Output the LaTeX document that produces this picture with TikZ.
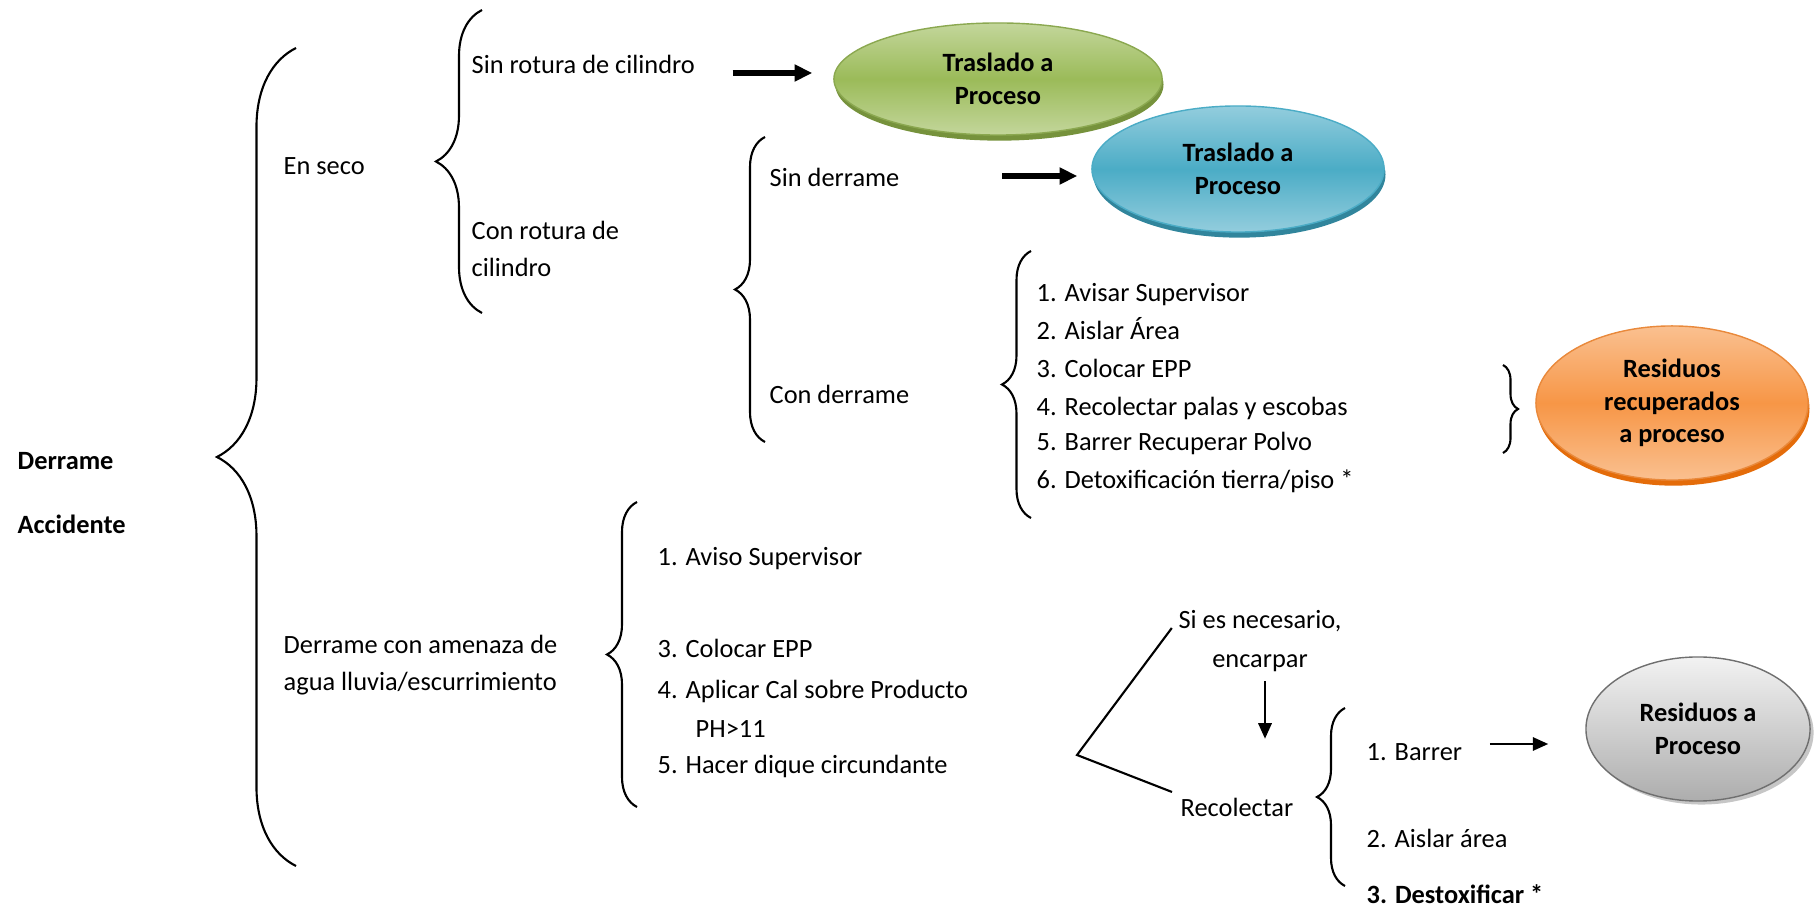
\documentclass[tikz,border=0pt]{standalone}
\usepackage{fontspec}
\setmainfont{Carlito}
\usetikzlibrary{positioning,calc,arrows.meta,shapes.geometric,decorations.pathreplacing,shadows}
\tikzset{font=\fontsize{7.5}{10.6}\selectfont}

\definecolor{verde}{HTML}{9BBB59}
\definecolor{verdeclaro}{HTML}{C3D69B}
\definecolor{verdeosc}{HTML}{76923C}
\definecolor{azul}{HTML}{4BACC6}
\definecolor{azulclaro}{HTML}{93CDDD}
\definecolor{azulosc}{HTML}{31859C}
\definecolor{naranja}{HTML}{F79646}
\definecolor{naranjaclaro}{HTML}{FAC090}
\definecolor{naranjaosc}{HTML}{E46C0A}
\definecolor{grisclaro}{HTML}{F2F2F2}
\definecolor{grisosc}{HTML}{ADADAD}
\definecolor{grisborde}{HTML}{6F6F6F}

\begin{document}
\begin{tikzpicture}[x=0.01cm, y=-0.01cm,
	lbl/.style={inner sep=0pt, text height=0.6em, text depth=0pt},
	izq/.style={lbl, anchor=west},
	bloque/.style={inner sep=0pt, anchor=west, align=left},
	llave/.style={decorate, decoration={brace, amplitude=#1}, line width=0.6pt},
	bola/.style={ellipse, inner sep=0pt, align=center, line width=0.4pt,
		font=\bfseries\fontsize{7.5}{9.3}\selectfont},
	gruesa/.style={line width=1.7pt, -{Triangle[length=5pt, width=4.6pt]}},
	fina/.style={line width=0.6pt, -{Triangle[length=4.4pt, width=3.8pt]}},
	linea/.style={line width=0.6pt}]
	\useasboundingbox (0,0) rectangle (1815,907);

	% izquierda
	\node[izq, font=\bfseries\fontsize{7.5}{10.6}\selectfont] (derr) at (17,459) {Derrame};
	\node[izq, font=\bfseries\fontsize{7.5}{10.6}\selectfont] (acc) at (17,523) {Accidente};
	\draw[llave=0.79cm] (296,866) -- (296,48);

	\node[izq] (enseco) at (283,164) {En seco};
	\draw[llave=0.46cm] (482,313) -- (482,10);
	\node[izq] (sinrot) at (471,63) {Sin rotura de cilindro};
	\node[bloque] (conrot) at (471,249) {Con rotura de\\cilindro};

	\draw[llave=0.3cm] (765,442) -- (765,137);
	\node[izq] (sinder) at (769,176) {Sin derrame};
	\node[izq] (conder) at (769,393) {Con derrame};

	% elipses
	\node[bola, minimum width=3.28cm, minimum height=1.12cm, draw=verde!90!black,
		top color=verdeclaro, bottom color=verdeclaro, middle color=verde,
		drop shadow={shadow xshift=0.4pt, shadow yshift=-1.6pt, fill=verdeosc, opacity=1}]
		(tras1) at (998,79) {Traslado a\\Proceso};
	\node[bola, minimum width=2.92cm, minimum height=1.26cm, draw=azul,
		top color=azulclaro, bottom color=azulclaro, middle color=azul,
		drop shadow={shadow xshift=0.4pt, shadow yshift=-1.6pt, fill=azulosc, opacity=1}]
		(tras2) at (1238,169) {Traslado a\\Proceso};
	\draw[gruesa] ([xshift=0.37cm, yshift=-0.1cm]sinrot.east) -- ([xshift=-0.21cm, yshift=-0.1cm]sinrot.east -| tras1.west);
	\draw[gruesa] ([xshift=1.02cm]sinder.east) -- ([xshift=-0.14cm]sinder.east -| tras2.west);

	% con derrame
	\draw[llave=0.29cm] (1031,518) -- (1031,251);
	\node[izq] (p1) at (1036,291) {1. Avisar Supervisor};
	\node[izq] (p2) at (1036,329) {2. Aislar Área};
	\node[izq] (p3) at (1036,367) {3. Colocar EPP};
	\node[izq] (p4) at (1036,405) {4. Recolectar palas y escobas};
	\node[izq] (p5) at (1036,440) {5. Barrer Recuperar Polvo};
	\node[izq] (p6) at (1036,478) {6. Detoxificación tierra/piso *};

	\draw[llave=0.15cm] (1503,365) -- (1503,453);
	\node[bola, minimum width=2.72cm, minimum height=1.54cm, draw=naranjaosc!80,
		top color=naranjaclaro, bottom color=naranjaclaro, middle color=naranja,
		drop shadow={shadow xshift=0.4pt, shadow yshift=-1.6pt, fill=naranjaosc, opacity=1}]
		(resrec) at (1672,403) {Residuos\\recuperados\\a proceso};

	% amenaza de agua
	\node[bloque] (amen) at (283,665) {Derrame con amenaza de\\agua lluvia/escurrimiento};
	\draw[llave=0.3cm] (637,807) -- (637,502);
	\node[izq] (a1) at (657,555) {1. Aviso Supervisor};
	\node[izq] (a3) at (657,647) {3. Colocar EPP};
	\node[izq] (a4) at (657,688) {4. Aplicar Cal sobre Producto};
	\node[izq] (ph) at (695,727) {PH>11};
	\node[izq] (a5) at (657,763) {5. Hacer dique circundante};

	\node[lbl] (sinec) at (1260,618) {Si es necesario,};
	\node[lbl] (encar) at (1260,657) {encarpar};
	\node[izq] (recol) at (1180,806) {Recolectar};
	\coordinate (vtx) at (1077,755);
	\draw[linea] ([xshift=-0.06cm, yshift=-0.1cm]sinec.west) -- (vtx) -- ([xshift=-0.08cm, yshift=0.14cm]recol.west);
	\draw[fina] ([xshift=0.05cm, yshift=-0.13cm]encar.south) -- ([xshift=0.05cm, yshift=0.56cm]encar.south |- recol.north);

	\draw[llave=0.28cm] (1345,886) -- (1345,708);
	\node[izq] (barrer) at (1366,750) {1. Barrer};
	\node[izq] (aisl) at (1366,837) {2. Aislar área};
	\node[izq, font=\bfseries\fontsize{7.5}{10.6}\selectfont] (destox) at (1366,893) {3. Destoxificar *};

	\node[bola, minimum width=2.24cm, minimum height=1.44cm, draw=grisborde,
		top color=grisclaro, bottom color=grisosc,
		drop shadow={shadow xshift=1pt, shadow yshift=-1pt, fill=gray!45, opacity=1}]
		(resid) at (1698,729) {Residuos a\\Proceso};
	\draw[fina] ([xshift=0.27cm, yshift=0.06cm]barrer.east) -- ([xshift=-0.37cm, yshift=0.06cm]barrer.east -| resid.west);
\end{tikzpicture}
\end{document}
